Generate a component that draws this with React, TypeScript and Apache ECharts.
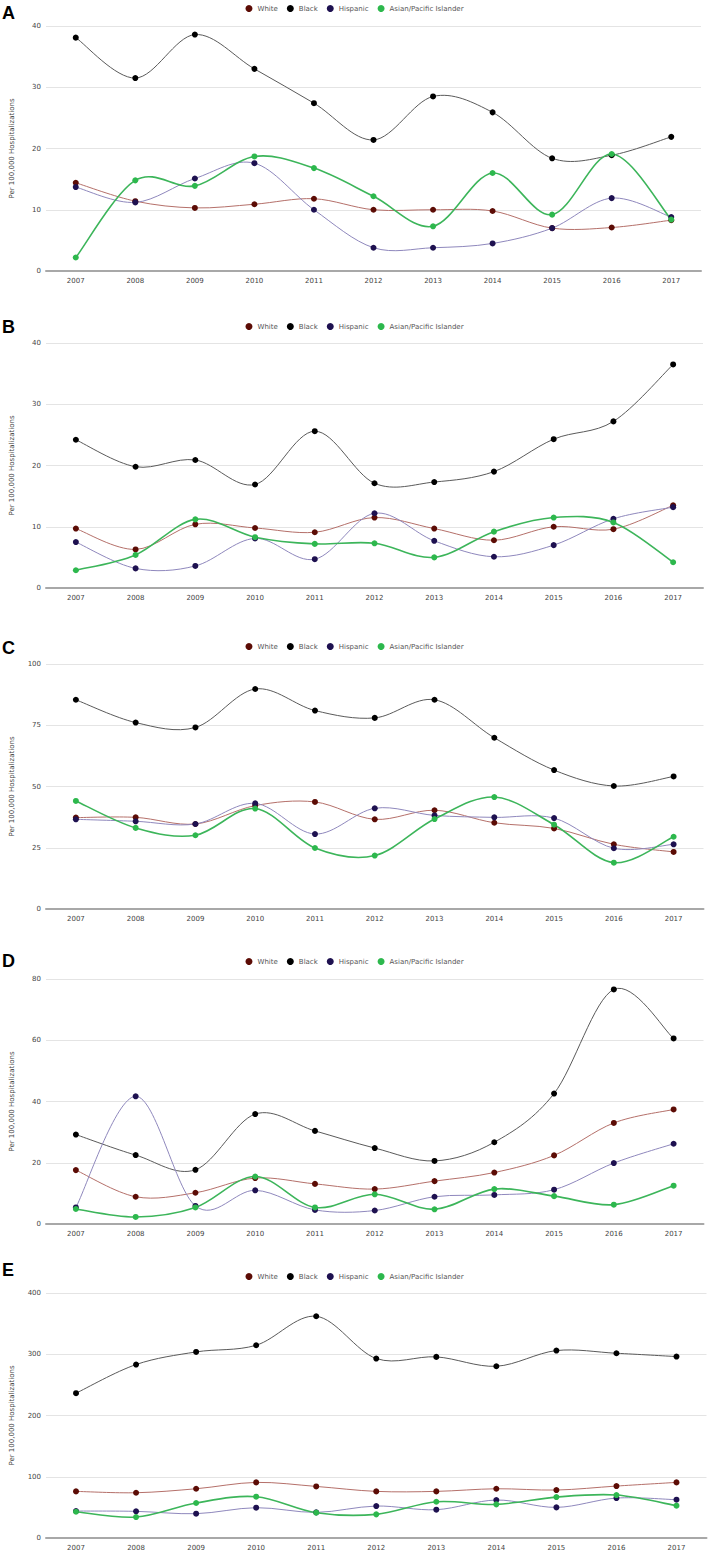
import React, { useEffect, useRef } from "react";
import * as echarts from "echarts";

const years = ["2007", "2008", "2009", "2010", "2011", "2012", "2013", "2014", "2015", "2016", "2017"];
const seriesNames = ["White", "Black", "Hispanic", "Asian/Pacific Islander"];
const panelLetters = ["A", "B", "C", "D", "E"];

const aWhite = [14.4, 11.4, 10.3, 10.9, 11.8, 10.0, 10.0, 9.8, 7.0, 7.1, 8.3];
const aBlack = [38.1, 31.5, 38.6, 33.0, 27.4, 21.4, 28.5, 25.9, 18.4, 18.9, 21.9];
const aHispanic = [13.7, 11.2, 15.1, 17.6, 10.0, 3.8, 3.8, 4.5, 7.0, 11.9, 8.8];
const aAsian = [2.2, 14.8, 13.9, 18.7, 16.8, 12.2, 7.3, 16.0, 9.2, 19.1, 8.4];

const bWhite = [9.7, 6.3, 10.4, 9.8, 9.1, 11.5, 9.7, 7.8, 10.0, 9.6, 13.5];
const bBlack = [24.2, 19.8, 20.9, 16.9, 25.6, 17.1, 17.3, 19.0, 24.3, 27.2, 36.5];
const bHispanic = [7.5, 3.2, 3.6, 8.1, 4.7, 12.2, 7.7, 5.1, 7.0, 11.3, 13.2];
const bAsian = [2.9, 5.4, 11.2, 8.3, 7.2, 7.3, 5.0, 9.2, 11.5, 10.7, 4.2];

const cWhite = [37.3, 37.4, 34.7, 42.2, 43.7, 36.6, 40.3, 35.2, 32.9, 26.4, 23.3];
const cBlack = [85.4, 76.1, 74.1, 89.8, 81.0, 78.0, 85.4, 69.9, 56.7, 50.2, 54.1];
const cHispanic = [36.6, 35.8, 34.7, 43.1, 30.6, 41.1, 38.2, 37.4, 37.1, 24.8, 26.4];
const cAsian = [44.1, 33.1, 30.1, 41.0, 24.9, 21.8, 36.7, 45.7, 34.4, 18.9, 29.5];

const dWhite = [17.6, 8.9, 10.2, 15.0, 13.1, 11.4, 14.0, 16.8, 22.4, 33.0, 37.4];
const dBlack = [29.2, 22.5, 17.7, 35.9, 30.4, 24.8, 20.6, 26.7, 42.6, 76.6, 60.6];
const dHispanic = [5.4, 41.7, 5.9, 11.0, 4.6, 4.4, 8.9, 9.5, 11.2, 19.9, 26.2];
const dAsian = [4.9, 2.3, 5.4, 15.5, 5.4, 9.7, 4.8, 11.4, 9.1, 6.3, 12.5];

const eWhite = [76.1, 73.9, 80.4, 90.8, 84.2, 76.1, 76.1, 80.4, 78.3, 84.8, 90.8];
const eBlack = [236.4, 283.2, 303.8, 314.7, 362.0, 293.0, 295.7, 280.4, 306.0, 301.6, 296.2];
const eHispanic = [44.0, 43.5, 39.7, 49.5, 41.8, 52.2, 46.2, 62.0, 50.0, 65.2, 62.5];
const eAsian = [42.9, 34.2, 57.1, 67.4, 41.3, 38.6, 59.2, 54.9, 66.8, 70.1, 52.7];

const panelData = [
  [aWhite, aBlack, aHispanic, aAsian],
  [bWhite, bBlack, bHispanic, bAsian],
  [cWhite, cBlack, cHispanic, cAsian],
  [dWhite, dBlack, dHispanic, dAsian],
  [eWhite, eBlack, eHispanic, eAsian],
];
const yMax = [40, 40, 100, 80, 400];
const yInterval = [10, 10, 25, 20, 100];

// layout (pixels)
const layout = [
  { left: 37, top: 26, legendY: 0, letterY: 4 },
  { left: 39, top: 343, legendY: 318, letterY: 318 },
  { left: 39.5, top: 664, legendY: 638, letterY: 639 },
  { left: 39.5, top: 979, legendY: 953, letterY: 952 },
  { left: 42.5, top: 1293, legendY: 1268, letterY: 1261 },
];
const GRID_W = 664;
const GRID_H = 245;

const markerColors = ["#5c0c05", "#000000", "#1e1150", "#2db84d"];
const lineColors = ["#b5706a", "#5a5a5a", "#8f88bd", "#3cb55a"];
const lineWidths = [1, 1, 1, 1.6];

const FONT = "DejaVu Sans";

// Catmull-Rom control points in pixel space
function rightCtrl(pts: number[][], i: number) {
  const prev = pts[Math.max(0, i - 1)];
  const next = pts[Math.min(pts.length - 1, i + 1)];
  return [pts[i][0] + (next[0] - prev[0]) / 6, pts[i][1] + (next[1] - prev[1]) / 6];
}
function leftCtrl(pts: number[][], i: number) {
  const prev = pts[Math.max(0, i - 1)];
  const next = pts[Math.min(pts.length - 1, i + 1)];
  return [pts[i][0] - (next[0] - prev[0]) / 6, pts[i][1] - (next[1] - prev[1]) / 6];
}

export default function App() {
  const ref = useRef<HTMLDivElement>(null);
  useEffect(() => {
    if (!ref.current) return;
    const chart = echarts.init(ref.current, null, { renderer: "svg" });
    const grids: any[] = [];
    const xAxes: any[] = [];
    const yAxes: any[] = [];
    const legends: any[] = [];
    const markerSeries: any[] = [];
    const curveSeries: any[] = [];
    const graphics: any[] = [];
    panelData.forEach((panel, p) => {
      const L = layout[p];
      grids.push({ left: L.left, top: L.top, width: GRID_W, height: GRID_H });
      xAxes.push({
        type: "category",
        gridIndex: p,
        data: years,
        boundaryGap: true,
        axisLine: { show: true, lineStyle: { color: "#a8a8a8", width: 2 } },
        axisTick: { show: false },
        axisLabel: { fontFamily: FONT, fontSize: 7, color: "#444", margin: 6 },
      });
      yAxes.push({
        type: "value",
        gridIndex: p,
        min: 0,
        max: yMax[p],
        interval: yInterval[p],
        name: "Per 100,000 Hospitalizations",
        nameLocation: "middle",
        nameGap: 31,
        nameTextStyle: { fontFamily: FONT, fontSize: 7, color: "#444" },
        axisLine: { show: false },
        axisTick: { show: false },
        axisLabel: { fontFamily: FONT, fontSize: 7, color: "#444", margin: 5 },
        splitLine: { show: true, lineStyle: { color: "#e4e4e4", width: 1 } },
      });
      legends.push({
        data: seriesNames,
        top: L.legendY,
        left: "center",
        icon: "circle",
        itemWidth: 7,
        itemHeight: 7,
        itemGap: 9,
        textStyle: { fontFamily: FONT, fontSize: 7, color: "#555" },
      });
      panel.forEach((vals, s) => {
        markerSeries.push({
          name: seriesNames[s],
          type: "line",
          xAxisIndex: p,
          yAxisIndex: p,
          data: vals,
          symbol: "circle",
          symbolSize: 6,
          showSymbol: true,
          itemStyle: { color: markerColors[s] },
          lineStyle: { color: lineColors[s], width: 0, opacity: 0 },
          z: 5 + s,
        });
        curveSeries.push({
          name: seriesNames[s],
          type: "custom",
          xAxisIndex: p,
          yAxisIndex: p,
          data: vals.map((v, i) => [i, v]),
          z: 2 + s * 0.1,
          silent: true,
          renderItem: (params: any, api: any) => {
            const i = params.dataIndex;
            if (i >= vals.length - 1) return null;
            const pts = vals.map((v, k) => api.coord([k, v]));
            const c0 = rightCtrl(pts, i);
            const c1 = leftCtrl(pts, i + 1);
            const [x0, y0] = pts[i];
            const [x1, y1] = pts[i + 1];
            const d = `M${x0},${y0}C${c0[0]},${c0[1]} ${c1[0]},${c1[1]} ${x1},${y1}`;
            return {
              type: "path",
              shape: { pathData: d },
              style: { stroke: lineColors[s], lineWidth: lineWidths[s], fill: "none" },
            };
          },
        });
      });
      graphics.push({
        type: "text",
        left: 2,
        top: L.letterY,
        style: {
          text: panelLetters[p],
          font: "bold 18px 'Liberation Sans', Arial, sans-serif",
          fill: "#000",
        },
      });
    });
    chart.setOption({
      animation: false,
      backgroundColor: "#ffffff",
      grid: grids,
      xAxis: xAxes,
      yAxis: yAxes,
      legend: legends,
      series: [...markerSeries, ...curveSeries],
      graphic: graphics,
    });
    return () => chart.dispose();
  }, []);
  return (
    <div
      ref={ref}
      style={{ position: "absolute", left: 0, top: 0, width: 709, height: 1551 }}
    />
  );
}
